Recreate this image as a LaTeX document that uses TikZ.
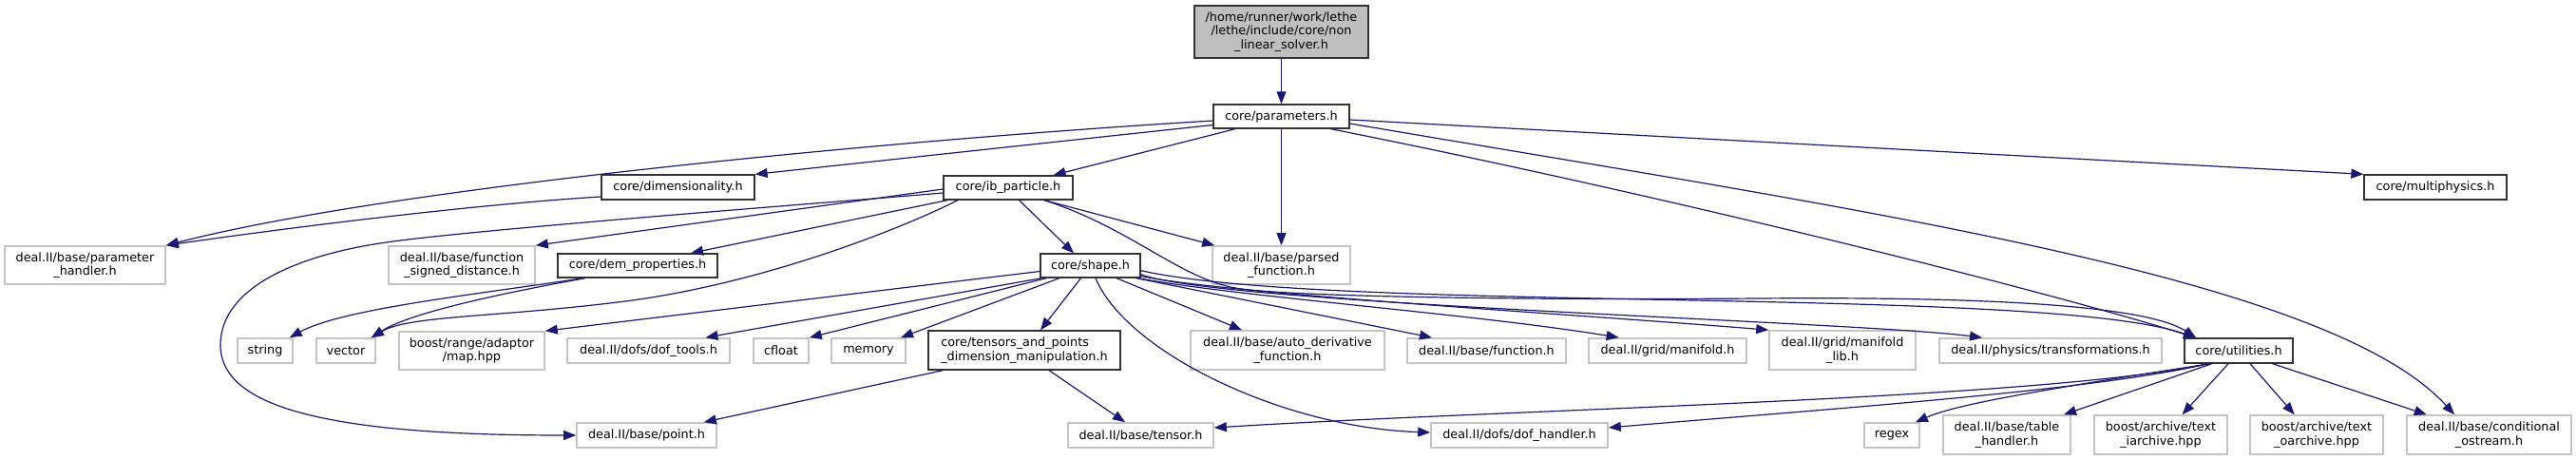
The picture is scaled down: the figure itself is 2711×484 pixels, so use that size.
\documentclass[tikz,border=0pt]{standalone}
\usepackage{fontspec}
\setmainfont{DejaVu Sans}
\usetikzlibrary{arrows.meta}
\definecolor{edgeblue}{HTML}{191970}
\definecolor{extgray}{HTML}{C4C4C4}
\definecolor{coregray}{HTML}{333333}
\definecolor{rootfill}{HTML}{BFBFBF}
\tikzset{
  base/.style={inner sep=0pt, line width=1.6pt, fill=white, align=center,
    font=\fontsize{12.8pt}{14.4pt}\selectfont},
  ext/.style={base, draw=extgray},
  core/.style={base, draw=coregray, line width=1.3pt},
  rootn/.style={core, fill=rootfill},
  edge/.style={draw=edgeblue, line width=1.2pt, -{Triangle[length=13pt,width=10pt]}}
}
\begin{document}
\begin{tikzpicture}[x=1pt,y=-1pt]
\useasboundingbox (0,0) rectangle (2711,484);
% nodes
\node[rootn, minimum width=183pt, minimum height=55pt] (root) at (1348.5,33.5) {/home/runner/work/lethe\\/lethe/include/core/non\\\_linear\_solver.h};
\node[core, minimum width=143pt, minimum height=25pt] (params) at (1348.5,122.5) {core/parameters.h};
\node[core, minimum width=161pt, minimum height=26pt] (dim) at (713.5,197) {core/dimensionality.h};
\node[core, minimum width=136pt, minimum height=25pt] (ib) at (1061,197.5) {core/ib\_particle.h};
\node[core, minimum width=150pt, minimum height=26pt] (multi) at (2563,197) {core/multiphysics.h};
\node[ext, minimum width=169pt, minimum height=40pt] (ph) at (89.5,279) {deal.II/base/parameter\\\_handler.h};
\node[ext, minimum width=154pt, minimum height=40pt] (fsd) at (486,279) {deal.II/base/function\\\_signed\_distance.h};
\node[core, minimum width=168pt, minimum height=25pt] (dem) at (671,279.5) {core/dem\_properties.h};
\node[ext, minimum width=145pt, minimum height=40pt] (parsed) at (1348.5,279) {deal.II/base/parsed\\\_function.h};
\node[core, minimum width=105pt, minimum height=25pt] (shape) at (1147.5,279.5) {core/shape.h};
\node[ext, minimum width=58pt, minimum height=26pt] (string) at (279,369) {string};
\node[ext, minimum width=62pt, minimum height=26pt] (vector) at (364,369) {vector};
\node[ext, minimum width=153pt, minimum height=40pt] (map) at (496.5,369) {boost/range/adaptor\\/map.hpp};
\node[ext, minimum width=171pt, minimum height=26pt] (doftools) at (682.5,369) {deal.II/dofs/dof\_tools.h};
\node[ext, minimum width=58pt, minimum height=26pt] (cfloat) at (822,369) {cfloat};
\node[ext, minimum width=78pt, minimum height=26pt] (memory) at (914,369) {memory};
\node[core, minimum width=202pt, minimum height=41pt, align=left] (tensors) at (1078,368.5) {core/tensors\_and\_points\\\_dimension\_manipulation.h};
\node[ext, minimum width=204pt, minimum height=41pt] (auto) at (1355,368.5) {deal.II/base/auto\_derivative\\\_function.h};
\node[ext, minimum width=167pt, minimum height=26pt] (function) at (1564.5,369) {deal.II/base/function.h};
\node[ext, minimum width=166pt, minimum height=26pt] (manifold) at (1755,369) {deal.II/grid/manifold.h};
\node[ext, minimum width=154pt, minimum height=41pt] (mlib) at (1939,368.5) {deal.II/grid/manifold\\\_lib.h};
\node[ext, minimum width=234pt, minimum height=26pt] (transf) at (2158,369) {deal.II/physics/transformations.h};
\node[core, minimum width=114pt, minimum height=26pt] (util) at (2356,369) {core/utilities.h};
\node[ext, minimum width=147pt, minimum height=26pt] (point) at (680.5,458) {deal.II/base/point.h};
\node[ext, minimum width=153pt, minimum height=26pt] (tensor) at (1200.5,458) {deal.II/base/tensor.h};
\node[ext, minimum width=186pt, minimum height=26pt] (dofh) at (1599,458) {deal.II/dofs/dof\_handler.h};
\node[ext, minimum width=58pt, minimum height=26pt] (regex) at (1991,458) {regex};
\node[ext, minimum width=134pt, minimum height=41pt] (table) at (2112,457.5) {deal.II/base/table\\\_handler.h};
\node[ext, minimum width=140pt, minimum height=41pt] (iarch) at (2274,457.5) {boost/archive/text\\\_iarchive.hpp};
\node[ext, minimum width=140pt, minimum height=41pt] (oarch) at (2438,457.5) {boost/archive/text\\\_oarchive.hpp};
\node[ext, minimum width=173pt, minimum height=41pt] (cond) at (2619.5,457.5) {deal.II/base/conditional\\\_ostream.h};
% edges
\draw[edge] (root.south) -- (params.north);
\draw[edge] ([shift={(0,4.5)}]params.west) .. controls (900,150) and (400,200) .. (ph.north east);
\draw[edge] ([shift={(0,9)}]params.west) -- (dim.north east);
\draw[edge] ([shift={(-48.5,0)}]params.south) -- ([shift={(47.5,0)}]ib.north);
\draw[edge] (params.south) -- (parsed.north);
\draw[edge] ([shift={(52,0)}]params.south) .. controls (1750,205) and (2150,305) .. ([shift={(-45,0)}]util.north);
\draw[edge] ([shift={(0,7.5)}]params.east) .. controls (1950,220) and (2450,290) .. ([shift={(-36.5,0)}]cond.north);
\draw[edge] ([shift={(0,3.5)}]params.east) -- (multi.north west);
\draw[edge] ([shift={(0,10)}]dim.west) .. controls (500,215) and (300,240) .. (ph.north east);
\draw[edge] ([shift={(0,5.5)}]ib.west) .. controls (850,215) and (480,243) .. (400,256)
   .. controls (320,268) and (232,300) .. (232,363)
   .. controls (232,430) and (350,458) .. (point.west);
\draw[edge] ([shift={(0,1.5)}]ib.west) -- (fsd.north east);
\draw[edge] ([shift={(-64,0)}]ib.south) -- ([shift={(56,0)}]dem.north);
\draw[edge] ([shift={(-53,0)}]ib.south) .. controls (950,240) and (800,300) .. (650,318)
   .. controls (520,334) and (430,332) .. ([shift={(-5,0)}]vector.north east);
\draw[edge] ([shift={(11.5,0)}]ib.south) -- ([shift={(-17.5,0)}]shape.north);
\draw[edge] ([shift={(38,0)}]ib.south) -- ([shift={(3,0)}]parsed.north west);
\draw[edge] ([shift={(38,0)}]ib.south) .. controls (1190,240) and (1240,292) .. (1300,303)
   .. controls (1350,312) and (1600,316) .. (1850,314)
   .. controls (2100,312) and (2260,322) .. ([shift={(-45,0)}]util.north);
\draw[edge] ([shift={(-57,0)}]dem.south) .. controls (500,310) and (360,325) .. ([shift={(-4,0)}]string.north east);
\draw[edge] ([shift={(-55,0)}]dem.south) .. controls (520,310) and (430,330) .. ([shift={(-5,0)}]vector.north east);
\draw[edge] ([shift={(0,6)}]shape.west) -- (map.north east);
\draw[edge] ([shift={(2,0)}]shape.south west) -- ([shift={(60,0)}]doftools.north);
\draw[edge] ([shift={(7,0)}]shape.south west) -- (cfloat.north east);
\draw[edge] ([shift={(-32.5,0)}]shape.south) -- ([shift={(34,0)}]memory.north);
\draw[edge] ([shift={(-10,0)}]shape.south) -- ([shift={(17,0)}]tensors.north);
\draw[edge] ([shift={(27.5,0)}]shape.south) -- ([shift={(-48,0)}]auto.north);
\draw[edge] ([shift={(5.5,0)}]shape.south) .. controls (1185,370) and (1350,450) .. ([shift={(0,-3)}]dofh.west);
\draw[edge] ([shift={(-5,0)}]shape.south east) -- ([shift={(-57.5,0)}]function.north);
\draw[edge] ([shift={(-3,0)}]shape.south east) .. controls (1300,312) and (1550,330) .. ([shift={(-51.4,0)}]manifold.north);
\draw[edge] ([shift={(0,-2)}]shape.south east) .. controls (1300,310) and (1650,330) .. (mlib.north west);
\draw[edge] ([shift={(0,-4)}]shape.south east) .. controls (1280,320) and (1950,338) .. ([shift={(-72,0)}]transf.north);
\draw[edge] ([shift={(0,-8)}]shape.south east) .. controls (1400,330) and (2150,300) .. ([shift={(-45,0)}]util.north);
\draw[edge] ([shift={(-32,0)}]util.south) .. controls (2150,420) and (1600,430) .. ([shift={(0,-8)}]tensor.east);
\draw[edge] ([shift={(-32,0)}]util.south) .. controls (2200,412) and (1900,432) .. ([shift={(0,-8)}]dofh.east);
\draw[edge] ([shift={(-30,0)}]util.south) .. controls (2150,410) and (2060,425) .. ([shift={(-5,0)}]regex.north east);
\draw[edge] ([shift={(-28,0)}]util.south) -- ([shift={(60,0)}]table.north);
\draw[edge] ([shift={(-11,0)}]util.south) -- ([shift={(22.6,0)}]iarch.north);
\draw[edge] ([shift={(12,0)}]util.south) -- ([shift={(-23.3,0)}]oarch.north);
\draw[edge] ([shift={(35.5,0)}]util.south) -- ([shift={(-65.7,0)}]cond.north);
\draw[edge] ([shift={(-85.6,0)}]tensors.south) -- ([shift={(-14,0)}]point.north east);
\draw[edge] ([shift={(26,0)}]tensors.south) -- ([shift={(-16.5,0)}]tensor.north);
\end{tikzpicture}
\end{document}
